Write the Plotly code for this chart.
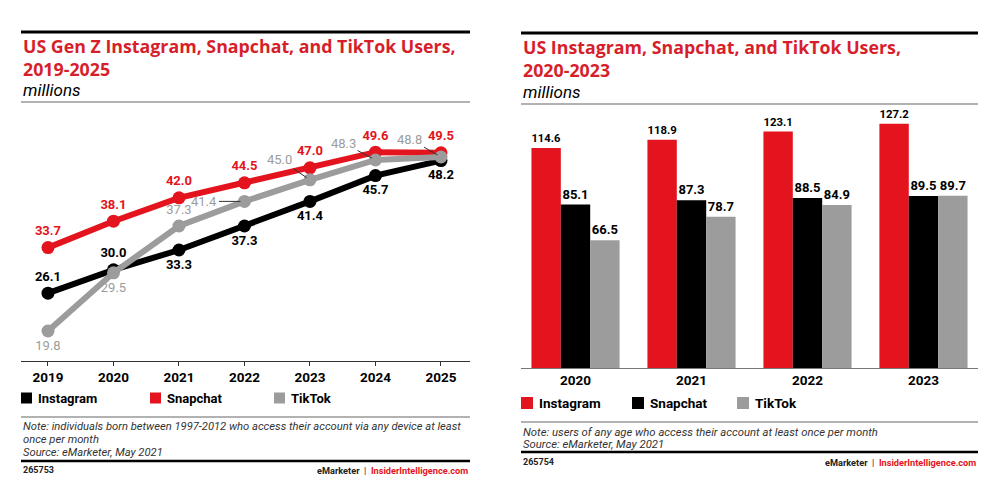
import plotly.graph_objects as go

# ---------------- data ----------------
years_left = [2019, 2020, 2021, 2022, 2023, 2024, 2025]
genz_instagram = [26.1, 30.0, 33.3, 37.3, 41.4, 45.7, 48.2]
genz_snapchat = [33.7, 38.1, 42.0, 44.5, 47.0, 49.6, 49.5]
genz_tiktok = [19.8, 29.5, 37.3, 41.4, 45.0, 48.3, 48.8]

years_right = ["2020", "2021", "2022", "2023"]
us_instagram = [114.6, 118.9, 123.1, 127.2]
us_snapchat = [85.1, 87.3, 88.5, 89.5]
us_tiktok = [66.5, 78.7, 84.9, 89.7]

series_names = ["Instagram", "Snapchat", "TikTok"]

# ---------------- style ----------------
RED = "#e3141d"
TITLE_RED = "#d71f2b"
BLACK = "#000000"
GRAY = "#9c9c9c"
FONT = "Roboto"
TFONT = "Open Sans"
W, H = 1001, 480


def px(x):
    return x / W


def py(y):
    return 1 - y / H


fig = go.Figure()

# ---------------- left line chart ----------------
inst_pos = ["top center", "top center", "bottom center", "bottom center",
            "bottom center", "bottom center", "bottom center"]
tt_pos = ["bottom center", "bottom center", "top center", "top center",
          "top center", "top center", "top center"]
tt_text = [f"{v:.1f}" if i < 3 else "" for i, v in enumerate(genz_tiktok)]

fig.add_trace(go.Scatter(
    x=years_left, y=genz_instagram, mode="lines+markers+text",
    line=dict(color=BLACK, width=6), marker=dict(color=BLACK, size=13),
    text=[f"{v:.1f}" for v in genz_instagram], textposition=inst_pos,
    textfont=dict(family=FONT, size=13, color=BLACK, weight="bold"),
    showlegend=False, cliponaxis=False, xaxis="x", yaxis="y"))
fig.add_trace(go.Scatter(
    x=years_left, y=genz_snapchat, mode="lines+markers+text",
    line=dict(color=RED, width=6), marker=dict(color=RED, size=13),
    text=[f"{v:.1f}" for v in genz_snapchat], textposition="top center",
    textfont=dict(family=FONT, size=13, color=RED, weight="bold"),
    showlegend=False, cliponaxis=False, xaxis="x", yaxis="y"))
fig.add_trace(go.Scatter(
    x=years_left, y=genz_tiktok, mode="lines+markers+text",
    line=dict(color=GRAY, width=6), marker=dict(color=GRAY, size=13),
    text=tt_text, textposition=tt_pos,
    textfont=dict(family=FONT, size=13, color=GRAY),
    showlegend=False, cliponaxis=False, xaxis="x", yaxis="y"))

annotations = []
# TikTok labels with leader lines
leader_offsets = {3: (-40, 0), 4: (-30, -20), 5: (-32, -17), 6: (-31, -18)}
for i, (ax, ay) in leader_offsets.items():
    annotations.append(dict(
        x=years_left[i], y=genz_tiktok[i], xref="x", yref="y",
        text=f"{genz_tiktok[i]:.1f}", showarrow=True, arrowhead=0,
        arrowwidth=1, arrowcolor="#333333", ax=ax, ay=ay, standoff=4,
        font=dict(family=FONT, size=13, color=GRAY)))

# ---------------- right bar chart ----------------
for name, vals, col in zip(series_names, [us_instagram, us_snapchat, us_tiktok], [RED, BLACK, GRAY]):
    fig.add_trace(go.Bar(
        x=years_right, y=vals, name=name, marker=dict(color=col, line=dict(width=0)),
        text=[f"{v:.1f}" for v in vals], textposition="outside",
        textfont=dict(family=FONT, size=13, color=BLACK, weight="bold"),
        cliponaxis=False, showlegend=False, xaxis="x2", yaxis="y2"))

# ---------------- layout ----------------
fig.update_layout(
    width=W, height=H, margin=dict(l=0, r=0, t=0, b=0),
    paper_bgcolor="white", plot_bgcolor="white",
    barmode="group", bargap=0.24, bargroupgap=0,
    font=dict(family=FONT, color=BLACK),
    xaxis=dict(domain=[px(21), px(470)], range=[2018.588, 2025.443], anchor="y",
               tickvals=years_left, ticks="outside", ticklen=4, tickcolor="#333",
               showline=True, linecolor="#333", linewidth=1, showgrid=False,
               zeroline=False, tickfont=dict(family=FONT, size=13.5, color=BLACK, weight="bold")),
    yaxis=dict(domain=[py(361), py(124)], range=[14.8, 54.3], visible=False, anchor="x"),
    xaxis2=dict(domain=[px(521), px(978)], range=[-0.47, 3.47], type="category", anchor="y2",
                showline=True, linecolor="#777", linewidth=1, showgrid=False, ticks="",
                tickfont=dict(family=FONT, size=13.5, color=BLACK, weight="bold")),
    yaxis2=dict(domain=[py(368), py(112)], range=[0, 133.3], visible=False, anchor="x2"),
)


def text_ann(x, y, text, size, color=BLACK, bold=False, italic=False, anchor="left",
             family=FONT, yanchor="middle"):
    t = text
    if bold:
        t = f"<b>{t}</b>"
    if italic:
        t = f"<i>{t}</i>"
    annotations.append(dict(x=px(x), y=py(y), xref="paper", yref="paper", text=t,
                            showarrow=False, xanchor=anchor, yanchor=yanchor, align="left",
                            font=dict(family=family, size=size, color=color)))


shapes = []


def hline(x0, x1, y, color, width):
    shapes.append(dict(type="line", xref="paper", yref="paper", x0=px(x0), x1=px(x1),
                       y0=py(y), y1=py(y), line=dict(color=color, width=width)))


def square(x, y, color, s=12):
    shapes.append(dict(type="rect", xref="paper", yref="paper", x0=px(x), x1=px(x + s),
                       y0=py(y + s / 2), y1=py(y - s / 2), fillcolor=color, line=dict(width=0)))


FOOT = "<b>eMarketer</b>  |  <b><span style='color:#e3141d'>InsiderIntelligence.com</span></b>"

# Left panel decorations
hline(21, 470, 32, BLACK, 3)
text_ann(21, 57, "US Gen Z Instagram, Snapchat, and TikTok Users,<br>2019-2025", 17.8, TITLE_RED,
         bold=True, family=TFONT)
text_ann(21, 90, "millions", 17, BLACK, italic=True)
hline(21, 470, 102, "#999999", 1.5)
for i, (name, col) in enumerate(zip(series_names, [BLACK, RED, GRAY])):
    x0 = [21, 150, 274][i]
    square(x0, 398, col, 11)
    text_ann(x0 + 15, 398, name, 13, BLACK, bold=True)
hline(21, 470, 417, "#999999", 1.5)
text_ann(21, 426, "Note: individuals born between 1997-2012 who access their account via any device at least", 11.2, "#333333", italic=True)
text_ann(21, 439, "once per month", 11.2, "#333333", italic=True)
text_ann(21, 452, "Source: eMarketer, May 2021", 11.2, "#333333", italic=True)
hline(21, 470, 461, BLACK, 2.5)
text_ann(21, 470, "265753", 9, "#222222", bold=True)
annotations.append(dict(x=px(470), y=py(470), xref="paper", yref="paper", xanchor="right", yanchor="middle",
                        showarrow=False, text=FOOT, font=dict(family=FONT, size=9.2, color="#222222")))

# Right panel decorations
hline(521, 978, 33, BLACK, 3)
text_ann(521, 58, "US Instagram, Snapchat, and TikTok Users,<br>2020-2023", 17.8, TITLE_RED,
         bold=True, family=TFONT)
text_ann(521, 91.5, "millions", 17, BLACK, italic=True)
hline(521, 978, 104, "#999999", 1.5)
for i, (name, col) in enumerate(zip(series_names, [RED, BLACK, GRAY])):
    x0 = [521, 632, 737][i]
    square(x0, 403, col, 12)
    text_ann(x0 + 16, 403, name, 13.5, BLACK, bold=True)
hline(521, 978, 422, "#999999", 1.5)
text_ann(521, 432, "Note: users of any age who access their account at least once per month", 11.3, "#333333", italic=True)
text_ann(521, 444, "Source: eMarketer, May 2021", 11.3, "#333333", italic=True)
hline(521, 978, 452, BLACK, 2.5)
text_ann(521, 462, "265754", 9, "#222222", bold=True)
annotations.append(dict(x=px(978), y=py(462), xref="paper", yref="paper", xanchor="right", yanchor="middle",
                        showarrow=False, text=FOOT, font=dict(family=FONT, size=9.2, color="#222222")))

fig.update_layout(annotations=annotations, shapes=shapes)
fig.write_html("out.html", config={"displayModeBar": False},
               post_script="document.body.style.margin='0';document.body.style.overflow='hidden';")
